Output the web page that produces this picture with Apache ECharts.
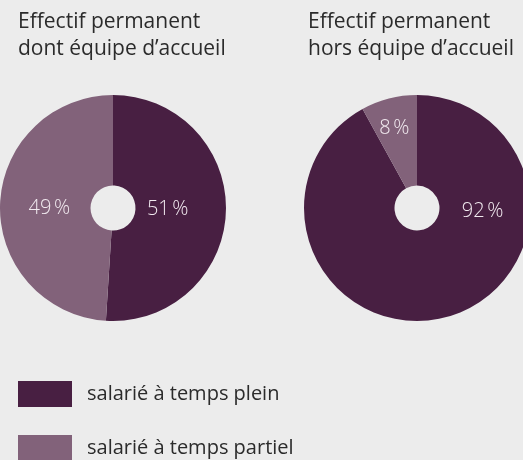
<!DOCTYPE html>
<html lang="fr">
<head>
<meta charset="UTF-8">
<title>Effectif permanent</title>
<script src="https://cdn.jsdelivr.net/npm/echarts@6/dist/echarts.min.js"></script>
<style>
  html, body { margin: 0; padding: 0; background: #ececec; }
  #chart { width: 523px; height: 460px; }
</style>
</head>
<body>
<div id="chart"></div>
<script>
// data
var categories = ['salarié à temps plein', 'salarié à temps partiel'];
var withReception = [51, 49];      // dont équipe d'accueil
var withoutReception = [92, 8];    // hors équipe d'accueil
var titles = ['Effectif permanent\ndont équipe d\u2019accueil', 'Effectif permanent\nhors équipe d\u2019accueil'];

var colors = ['#481f42', '#82627a'];
var font = 'Open Sans';

// label nudges, per slice (pie "inside" puts labels at mid radius)
var leftOffsets = [[-16, -1], [7, 3]];
var rightOffsets = [[48, -65], [-5, -11]];

function pieData(values, offsets) {
    return values.map(function (v, i) {
        return { name: categories[i], value: v, label: { offset: offsets[i] } };
    });
}

function pieSeries(cx, values, offsets) {
    return {
        type: 'pie',
        center: [cx, 208],
        radius: [22.5, 113],
        startAngle: 90,
        clockwise: true,
        silent: true,
        itemStyle: { borderWidth: 0 },
        label: {
            show: true,
            position: 'inside',
            formatter: '{c}\u202f%',
            color: '#f1e9ef',
            fontFamily: font,
            fontWeight: 300,
            fontSize: 20
        },
        labelLine: { show: false },
        data: pieData(values, offsets)
    };
}

var titleStyle = { fontFamily: font, fontSize: 21, fontWeight: 'normal', color: '#2b2b2b', lineHeight: 27 };

var chart = echarts.init(document.getElementById('chart'));
chart.setOption({
    backgroundColor: '#ececec',
    color: colors,
    animation: false,
    title: [
        { text: titles[0], left: 18, top: 9, padding: 0, textStyle: titleStyle },
        { text: titles[1], left: 308, top: 9, padding: 0, textStyle: titleStyle }
    ],
    legend: {
        orient: 'vertical',
        left: 18,
        top: 381,
        height: 120,
        padding: 0,
        itemWidth: 54,
        itemHeight: 26,
        itemGap: 28,
        icon: 'rect',
        selectedMode: false,
        data: categories,
        textStyle: { fontFamily: font, fontSize: 20, color: '#2b2b2b', padding: [0, 0, 0, 10] }
    },
    series: [
        pieSeries(113, withReception, leftOffsets),
        pieSeries(417, withoutReception, rightOffsets)
    ]
});
</script>
</body>
</html>
